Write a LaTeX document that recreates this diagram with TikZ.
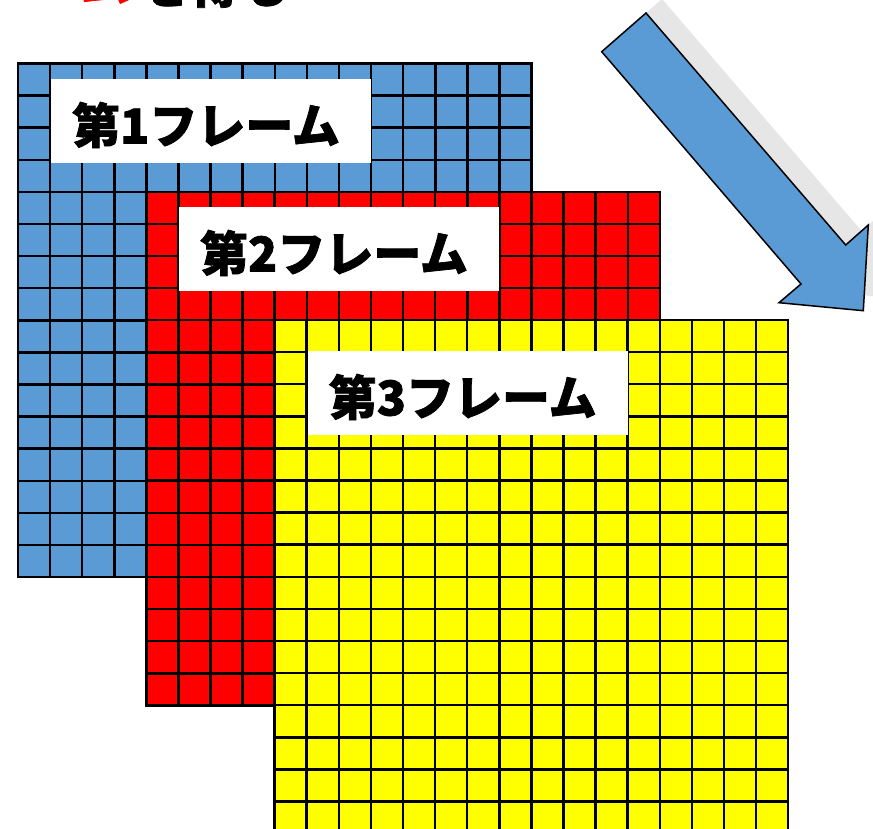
\documentclass[tikz,border=0pt]{standalone}
\usepackage{fontspec}
\newfontfamily\jpfont{Noto Sans CJK JP}[BoldFeatures={FakeBold=1.5}]
\definecolor{gblue}{HTML}{5B9BD5}
\definecolor{gred}{HTML}{FF0000}
\definecolor{gyellow}{HTML}{FFFF00}
\definecolor{gshadow}{HTML}{E6E6E6}
\tikzset{
  gridline/.style={black, line width=2.5pt, line cap=rect},
  labelbox/.style={fill=white, draw=none, minimum width=320pt, minimum height=84pt, inner sep=0pt},
  labeltext/.style={font=\jpfont\bfseries\fontsize{48}{48}\selectfont, inner sep=0pt, anchor=center},
  toptext/.style={font=\jpfont\bfseries\fontsize{50}{50}\selectfont, inner sep=0pt, anchor=base west},
  arrowbody/.style={fill=gblue, draw=black, line width=1.5pt, line join=miter},
  arrowshadow/.style={fill=gshadow, draw=none},
}
\newcommand\framegrid[3]{%
  \fill[#3] (#1,#2) rectangle ++(513.6,513.6);
  \foreach \i in {0,...,16} {
    \draw[gridline] ({#1+\i*32.1},#2) -- ++(0,513.6);
    \draw[gridline] (#1,{#2+\i*32.1}) -- ++(513.6,0);
  }
}
\begin{document}
\begin{tikzpicture}[x=1pt,y=-1pt]
\useasboundingbox (0,0) rectangle (873,829);
\clip (0,0) rectangle (873,829);

% heading, cut off by the top edge as in the reference
\begin{scope}
  \clip (0,0) rectangle (873,13);
  \node[toptext, text=gred] (headA) at (80,1) {ム};
  \node[toptext, text=black] (headB) at (140,3) {を得る};
\end{scope}

% arrow with its shadow
\begin{scope}[shift={(16,-14)}]
  \fill[arrowshadow] (646,13) -- (601.7,51.7) -- (801,284) -- (779,302.7)
    -- (863.3,310.7) -- (868.3,225) -- (845.7,245) -- cycle;
\end{scope}
\draw[arrowbody] (646,13) -- (601.7,51.7) -- (801,284) -- (779,302.7)
    -- (863.3,310.7) -- (868.3,225) -- (845.7,245) -- cycle;

% frames
\framegrid{18}{63.5}{gblue}
\framegrid{146.3}{191.8}{gred}
\framegrid{274.6}{320}{gyellow}

% labels
\node[labelbox] (box1) at (211,121) {};
\node[labeltext] (lab1) at (206,125) {第1フレーム};
\node[labelbox] (box2) at (339,249) {};
\node[labeltext] (lab2) at (334,253) {第2フレーム};
\node[labelbox] (box3) at (467.7,393) {};
\node[labeltext] (lab3) at (462.7,397) {第3フレーム};
\end{tikzpicture}
\end{document}
